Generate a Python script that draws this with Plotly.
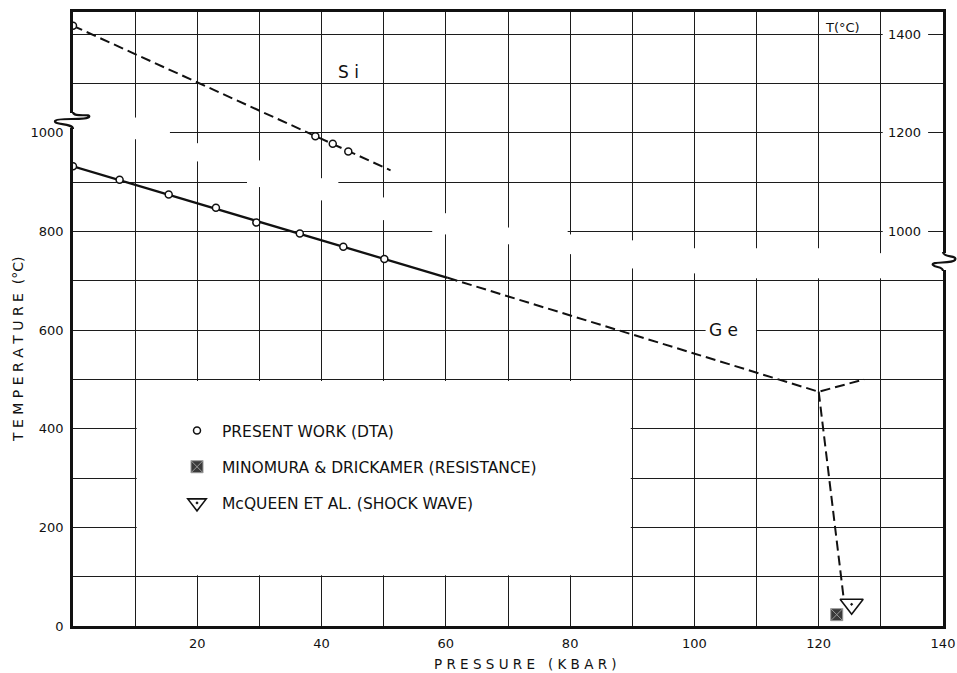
import plotly.graph_objects as go

# ---------------- data ----------------
# Ge melting, present work (DTA)
ge_p = [0, 7.5, 15.4, 23.0, 29.5, 36.5, 43.5, 50.1]
ge_t = [932, 905, 875, 848, 818, 796, 769, 744]
# Ge melting curve: measured part (solid) and extrapolation (dashed)
ge_solid_p = [0, 60.3]
ge_solid_t = [932, 706]
ge_dash_p = [60.3, 120.0, 127.3]
ge_dash_t = [706, 475, 500]
ge_drop_p = [120.0, 124.0]
ge_drop_t = [475, 58]
# Si melting, present work (DTA) - right-hand scale T(°C)
si_p = [0, 39.0, 41.8, 44.3]
si_t = [1417, 1193, 1178, 1162]
si_line_p = [0, 51.1]
si_line_t = [1417, 1124]
# Minomura & Drickamer (resistance)
md_p = [122.9]
md_t = [23]
# McQueen et al. (shock wave)
mq_p = [125.3]
mq_t = [44]

# axes / ticks
x_range = [0, 140]
y_range = [0, 1245]
y2_range = [200, 1445]
x_tickvals = list(range(10, 141, 10))
x_ticktext = [str(v) if v % 20 == 0 else "" for v in x_tickvals]
y_tickvals = list(range(0, 1201, 100))
y_ticktext = [str(v) if (v % 200 == 0 and v <= 1000) else "" for v in y_tickvals]
y2_tickvals = [1000, 1200, 1400]

legend_names = ["PRESENT WORK (DTA)",
                "MINOMURA & DRICKAMER (RESISTANCE)",
                "McQUEEN ET AL. (SHOCK WAVE)"]

FONT = "DejaVu Sans"
INK = "#111111"

W, H = 957, 673
ML, MR, MT, MB = 73, 14, 12, 47
PW, PH = W - ML - MR, H - MT - MB

fig = go.Figure()

fig.add_trace(go.Scatter(x=si_line_p, y=si_line_t, yaxis="y2", mode="lines",
                         line=dict(color=INK, width=2, dash="10px,5px"),
                         showlegend=False, hoverinfo="skip"))
fig.add_trace(go.Scatter(x=ge_solid_p, y=ge_solid_t, mode="lines",
                         line=dict(color=INK, width=2.3),
                         showlegend=False, hoverinfo="skip"))
fig.add_trace(go.Scatter(x=ge_dash_p, y=ge_dash_t, mode="lines",
                         line=dict(color=INK, width=2, dash="10px,5px"),
                         showlegend=False, hoverinfo="skip"))
fig.add_trace(go.Scatter(x=ge_drop_p, y=ge_drop_t, mode="lines",
                         line=dict(color=INK, width=2, dash="10px,5px"),
                         showlegend=False, hoverinfo="skip"))
fig.add_trace(go.Scatter(x=si_p, y=si_t, yaxis="y2", mode="markers",
                         marker=dict(symbol="circle", size=7, color="white",
                                     line=dict(color=INK, width=1.5)),
                         showlegend=False))
fig.add_trace(go.Scatter(x=ge_p, y=ge_t, mode="markers", name=legend_names[0],
                         legendgroup="a",
                         marker=dict(symbol="circle", size=7, color="white",
                                     line=dict(color=INK, width=1.5))))
fig.add_trace(go.Scatter(x=md_p, y=md_t, mode="markers", name=legend_names[1],
                         legendgroup="b",
                         marker=dict(symbol="square-x", size=12, color="#3a3a3a",
                                     line=dict(color="#9a9a9a", width=1))))
fig.add_trace(go.Scatter(x=mq_p, y=mq_t, mode="markers", name=legend_names[2],
                         legendgroup="c",
                         marker=dict(symbol="triangle-down-open-dot", size=20,
                                     color=INK, line=dict(color=INK, width=1.6))))

# ---------------- decoration: gaps in the grid (white masks) ----------------
shapes = []
vgaps = [(10, 987, 1031), (20, 942, 979), (30, 890, 944), (40, 863, 908),
         (50, 823, 869), (60, 794, 837), (70, 774, 808), (80, 754, 794),
         (90, 725, 782), (100, 715, 766), (110, 705, 766), (120, 705, 766),
         (130, 705, 756)]
for xv, t0, t1 in vgaps:
    shapes.append(dict(type="rect", xref="x", yref="y", x0=xv - 0.45, x1=xv + 0.45,
                       y0=t0, y1=t1, fillcolor="white", line=dict(width=0),
                       layer="between"))
hgaps = [(1000, 0, 15.6), (900, 28.0, 42.7), (800, 57.8, 79.6),
         (600, 101.8, 109.9), (1200, 130.3, 137.6), (1000, 130.3, 137.6),
         (800, 130.3, 137.6)]
for tv, x0, x1 in hgaps:
    shapes.append(dict(type="rect", xref="x", yref="y", x0=x0, x1=x1,
                       y0=tv - 4, y1=tv + 4, fillcolor="white", line=dict(width=0),
                       layer="between"))
# legend panel
shapes.append(dict(type="rect", xref="x", yref="y", x0=10.25, x1=89.75, y0=103, y1=497,
                   fillcolor="white", line=dict(width=0), layer="between"))


# axis-break squiggles, drawn in paper units from page-pixel guides
def pp(xp, yp):
    return ((xp - ML) / PW, (MT + PH - yp) / PH)


def path(cmds):
    out = []
    for c, pts in cmds:
        out.append(c + " " + " ".join("%.5f,%.5f" % pp(*p) for p in pts))
    return " ".join(out)


for (xc, ya, yb) in [(ML, 113, 128), (ML + PW, 253, 270)]:
    x0, y0 = pp(xc - 4, yb)
    x1, y1 = pp(xc + 4, ya)
    shapes.append(dict(type="rect", xref="paper", yref="paper", x0=x0, x1=x1,
                       y0=y0, y1=y1, fillcolor="white", line=dict(width=0),
                       layer="above"))

left_sq = path([("M", [(73, 112)]),
                ("C", [(73, 118), (92, 113), (89, 117)]),
                ("C", [(86, 121), (57, 117), (55, 121)]),
                ("C", [(54, 125), (73, 123), (73, 129)])])
right_sq = path([("M", [(943, 252)]),
                 ("C", [(943, 258), (958, 255), (955, 260)]),
                 ("C", [(952, 264), (930, 261), (933, 265)]),
                 ("C", [(935, 268), (943, 266), (943, 271)])])
for p in (left_sq, right_sq):
    shapes.append(dict(type="path", xref="paper", yref="paper", path=p,
                       line=dict(color=INK, width=2.2), layer="above"))

annotations = [
    dict(x=44.3, y=1124, xref="x", yref="y", text="S i", showarrow=False,
         font=dict(family=FONT, size=17, color=INK)),
    dict(x=104.6, y=600, xref="x", yref="y", text="G e", showarrow=False,
         font=dict(family=FONT, size=17, color=INK)),
    dict(x=123.8, y=1213, xref="x", yref="y", text="T(°C)", showarrow=False,
         font=dict(family=FONT, size=13, color=INK)),
    dict(x=(525 - ML) / PW, y=(MT + PH - 664) / PH, xref="paper", yref="paper",
         xanchor="center", yanchor="middle",
         text="P R E S S U R E   ( K B A R )", showarrow=False,
         font=dict(family=FONT, size=13.5, color=INK)),
    dict(x=(18 - ML) / PW, y=(MT + PH - 349) / PH, xref="paper", yref="paper",
         xanchor="center", yanchor="middle", textangle=-90,
         text="T E M P E R A T U R E  (°C)", showarrow=False,
         font=dict(family=FONT, size=14, color=INK)),
]

grid = dict(showgrid=True, gridcolor="#1c1c1c", gridwidth=1.3, zeroline=False,
            showline=True, linecolor=INK, linewidth=2.6, mirror=True, ticks="")

fig.update_layout(
    width=W, height=H,
    margin=dict(l=ML, r=MR, t=MT, b=MB, autoexpand=False),
    paper_bgcolor="white", plot_bgcolor="white",
    font=dict(family=FONT, color=INK),
    xaxis=dict(range=x_range, tickmode="array", tickvals=x_tickvals,
               ticktext=x_ticktext, tickfont=dict(size=13),
               ticklabelstandoff=4, automargin=False, **grid),
    yaxis=dict(range=y_range, tickmode="array", tickvals=y_tickvals,
               ticktext=y_ticktext, tickfont=dict(size=13),
               ticklabelstandoff=4, automargin=False, **grid),
    # right-hand T(°C) scale for Si, labelled just right of the 130 kbar line
    yaxis2=dict(range=y2_range, overlaying="y", side="right", anchor="free",
                position=(884 - ML) / PW, tickmode="array", tickvals=y2_tickvals,
                ticklabelstandoff=3, tickfont=dict(size=13), automargin=False,
                showgrid=False, zeroline=False, showline=False, ticks=""),
    showlegend=True,
    legend=dict(x=(172 - ML) / PW, y=(MT + PH - 414) / PH, xanchor="left", yanchor="top",
                bgcolor="rgba(0,0,0,0)", borderwidth=0, traceorder="grouped",
                itemwidth=40, tracegroupgap=13,
                font=dict(family=FONT, size=15.5, color=INK)),
    shapes=shapes,
    annotations=annotations,
)

fig.write_html("out.html",
               config={"displayModeBar": False},
               post_script="document.body.style.margin='0px';"
                           "document.documentElement.style.overflow='hidden';")
